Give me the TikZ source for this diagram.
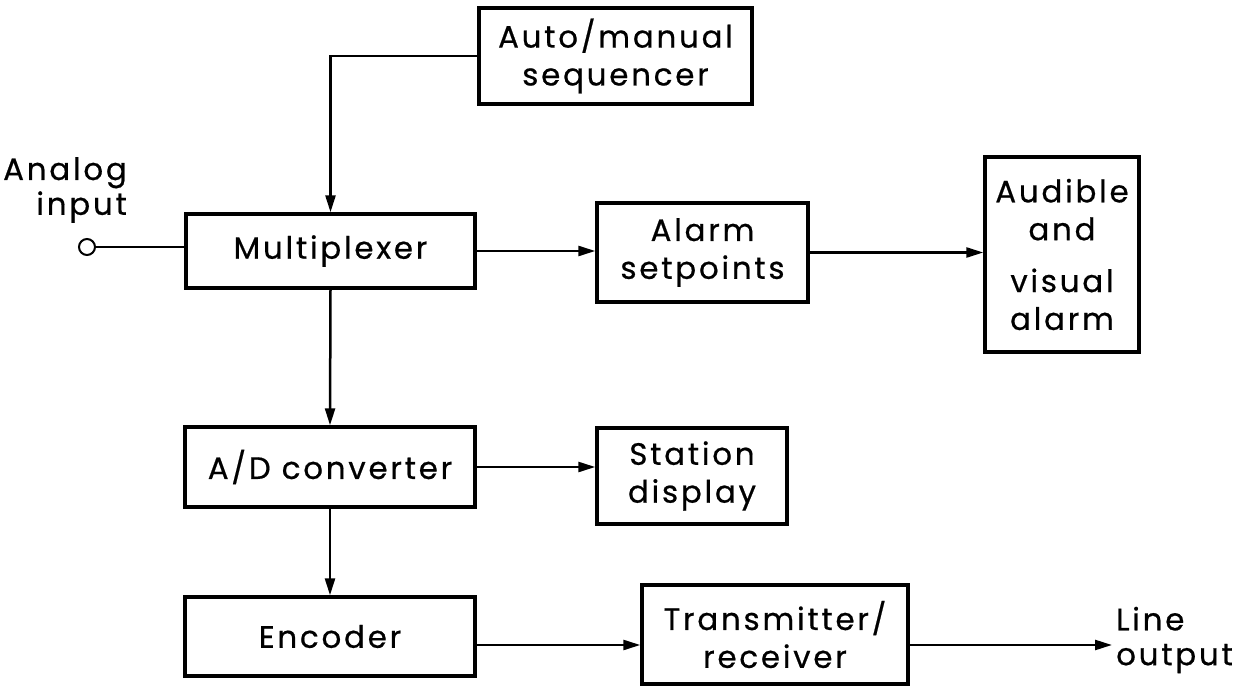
\documentclass[tikz,border=0pt]{standalone}
\usepackage{fontspec}
\setmainfont[LetterSpace=9,FakeBold=0.6]{Poppins}
\usetikzlibrary{arrows.meta}
\begin{document}
\begin{tikzpicture}[x=1bp,y=-1bp,
  blk/.style={draw, line width=3.4bp, align=center, inner sep=0pt, font=\fontsize{31}{38}\selectfont},
  lbl/.style={inner sep=0pt, font=\fontsize{31}{35}\selectfont},
  conn/.style={line width=2.5bp, -{Triangle[length=17bp,width=10bp]}},
  wire/.style={line width=2.5bp}]
\useasboundingbox (0,0) rectangle (1246,687);
\fill[white] (0,0) rectangle (1246,687);
% boxes
\node[blk, minimum width=273bp, minimum height=96bp] (seq) at (615.5,56) {Auto/manual\\sequencer};
\node[blk, minimum width=289bp, minimum height=74bp] (mux) at (330.5,251) {Multiplexer};
\node[blk, minimum width=211bp, minimum height=99bp] (asp) at (702.5,252.5) {Alarm\\setpoints};
\node[blk, minimum width=154bp, minimum height=195bp] (aud) at (1062,254.5) {Audible\\and\\[14bp]visual\\alarm};
\node[blk, minimum width=290bp, minimum height=80bp] (adc) at (330,467) {A/D converter};
\node[blk, minimum width=190bp, minimum height=96bp] (sta) at (692,476) {Station\\display};
\node[blk, minimum width=290bp, minimum height=79bp] (enc) at (330,636.5) {Encoder};
\node[blk, minimum width=266bp, minimum height=99bp] (trx) at (775,634.5) {Transmitter/\\receiver};
% terminals
\node[draw, circle, line width=2bp, minimum size=16bp, inner sep=0pt] (cin) at (87,247) {};
\node[lbl, align=right, anchor=east] (ain) at (127,190) {Analog\\input};
\node[lbl, align=left, anchor=west] (lout) at (1116,640) {Line\\output};
\coordinate (lo) at (1112,645);
% connectors
\draw[wire] (cin.east) -- (cin.east -| mux.west);
\draw[conn] (seq.west) -| (mux.north);
\draw[conn] (mux.east) -- (mux.east -| asp.west);
\draw[conn] (asp.east) -- (asp.east -| aud.west);
\draw[conn] (mux.south) -- (adc.north);
\draw[conn] (adc.east) -- (adc.east -| sta.west);
\draw[conn] (adc.south) -- (enc.north);
\draw[conn] (enc.east |- lo) -- (trx.west |- lo);
\draw[conn] (trx.east |- lo) -- (lo);
\end{tikzpicture}
\end{document}
